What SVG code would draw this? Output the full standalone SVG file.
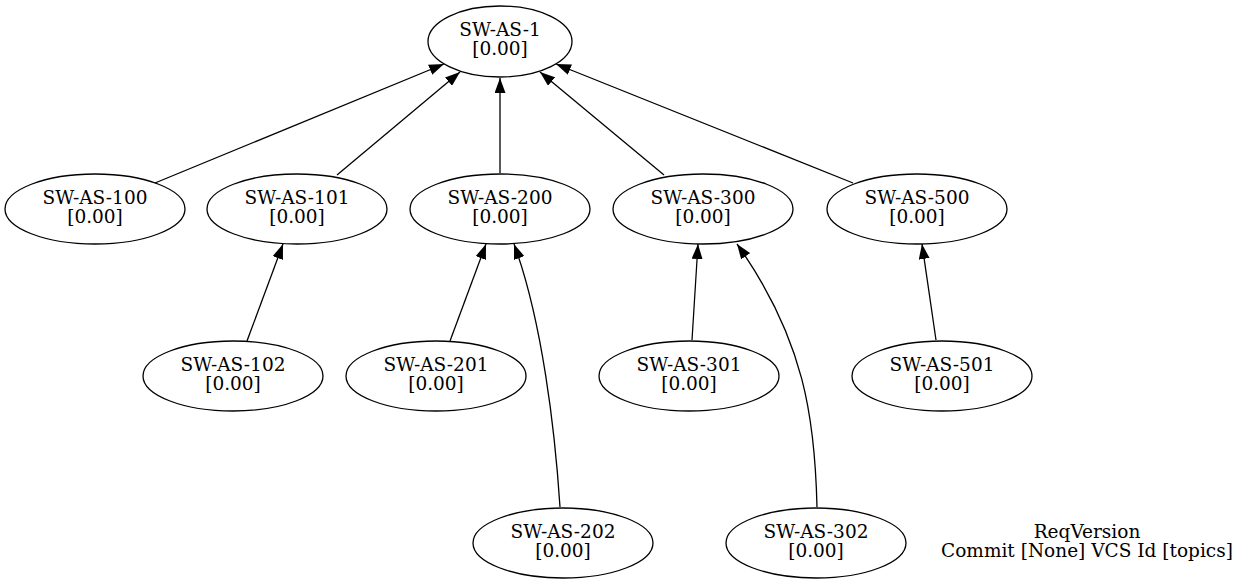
<svg xmlns="http://www.w3.org/2000/svg" width="1250" height="585" viewBox="0 0 1250 585">
<defs>
<style>
.n ellipse{fill:#fff;stroke:#000;stroke-width:1.3}
text{font-family:"DejaVu Serif",serif;font-size:18.5px;fill:#000;text-anchor:middle}
.e path{fill:none;stroke:#000;stroke-width:1.3;marker-end:url(#a)}
</style>
<marker id="a" markerUnits="userSpaceOnUse" markerWidth="15" markerHeight="11" refX="15" refY="5.5" orient="auto"><path d="M0,0 L15,5.5 L0,11 z" fill="#000"/></marker>
</defs>
<rect width="1250" height="585" fill="#fff"/>
<g class="e" id="edges">
<path d="M155,183 L444,64"/>
<path d="M337,175 L460,72"/>
<path d="M500,173 L500,78"/>
<path d="M664,175 L540,72"/>
<path d="M853,183 L556,64"/>
<path d="M247,341 L283,244"/>
<path d="M450,341 L486,244"/>
<path d="M560,507 C555,430 542,320 514,244"/>
<path d="M692,340 L698,244"/>
<path d="M817,507 C815,420 805,340 737,244"/>
<path d="M936,340 L922,244"/>
</g>
<g class="n" id="n1"><ellipse cx="500" cy="41.5" rx="72" ry="35.5"/><text x="500" y="36">SW-AS-1</text><text x="500" y="55">[0.00]</text></g>
<g class="n" id="n100"><ellipse cx="95" cy="209" rx="90" ry="35"/><text x="95" y="204">SW-AS-100</text><text x="95" y="223">[0.00]</text></g>
<g class="n" id="n101"><ellipse cx="297" cy="209" rx="90" ry="35"/><text x="297" y="204">SW-AS-101</text><text x="297" y="223">[0.00]</text></g>
<g class="n" id="n200"><ellipse cx="500" cy="209" rx="90" ry="35"/><text x="500" y="204">SW-AS-200</text><text x="500" y="223">[0.00]</text></g>
<g class="n" id="n300"><ellipse cx="703" cy="209" rx="90" ry="35"/><text x="703" y="204">SW-AS-300</text><text x="703" y="223">[0.00]</text></g>
<g class="n" id="n500"><ellipse cx="917" cy="209" rx="90" ry="35"/><text x="917" y="204">SW-AS-500</text><text x="917" y="223">[0.00]</text></g>
<g class="n" id="n102"><ellipse cx="233" cy="376" rx="90" ry="35"/><text x="233" y="371">SW-AS-102</text><text x="233" y="390">[0.00]</text></g>
<g class="n" id="n201"><ellipse cx="436" cy="376" rx="90" ry="35"/><text x="436" y="371">SW-AS-201</text><text x="436" y="390">[0.00]</text></g>
<g class="n" id="n301"><ellipse cx="689" cy="376" rx="90" ry="35"/><text x="689" y="371">SW-AS-301</text><text x="689" y="390">[0.00]</text></g>
<g class="n" id="n501"><ellipse cx="942" cy="376" rx="90" ry="35"/><text x="942" y="371">SW-AS-501</text><text x="942" y="390">[0.00]</text></g>
<g class="n" id="n202"><ellipse cx="563" cy="543" rx="90" ry="35"/><text x="563" y="538">SW-AS-202</text><text x="563" y="557">[0.00]</text></g>
<g class="n" id="n302"><ellipse cx="816" cy="543" rx="90" ry="35"/><text x="816" y="538">SW-AS-302</text><text x="816" y="557">[0.00]</text></g>
<g id="label"><text x="1087" y="538">ReqVersion</text><text x="1087" y="557">Commit [None] VCS Id [topics]</text></g>
</svg>
